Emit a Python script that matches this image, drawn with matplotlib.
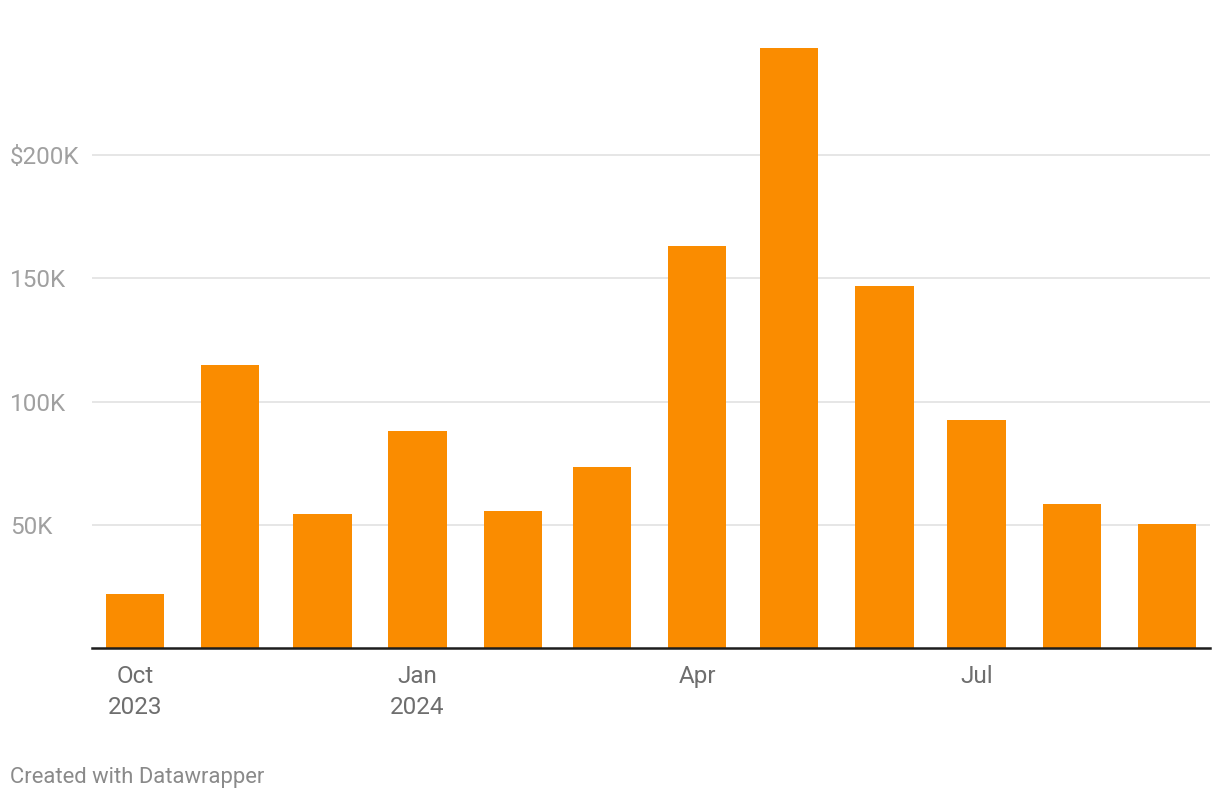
import datetime as dt

import matplotlib.dates as mdates
import matplotlib.pyplot as plt

plt.rcParams["font.family"] = ["Roboto", "DejaVu Sans"]

# Monthly values (USD), Oct 2023 - Sep 2024
months = [
    dt.date(2023, 10, 1), dt.date(2023, 11, 1), dt.date(2023, 12, 1),
    dt.date(2024, 1, 1), dt.date(2024, 2, 1), dt.date(2024, 3, 1),
    dt.date(2024, 4, 1), dt.date(2024, 5, 1), dt.date(2024, 6, 1),
    dt.date(2024, 7, 1), dt.date(2024, 8, 1), dt.date(2024, 9, 1),
]
values = [22000, 114800, 54400, 88000, 55600, 73400,
          163000, 243400, 146900, 92500, 58400, 50300]

ytick_vals = [50000, 100000, 150000, 200000]
ytick_labels = ["50K", "100K", "150K", "$200K"]
xtick_dates = [dt.date(2023, 10, 1), dt.date(2024, 1, 1),
               dt.date(2024, 4, 1), dt.date(2024, 7, 1)]
xtick_labels = ["Oct\n2023", "Jan\n2024", "Apr", "Jul"]

W, H = 1220, 800
fig = plt.figure(figsize=(W / 100, H / 100), dpi=100)
ax = fig.add_axes([92 / W, (H - 648) / H, (1210 - 92) / W, (648 - 32) / H])

ax.bar(months, values, width=19, color="#fa8c00", zorder=2)

ax.set_xlim(dt.date(2023, 9, 17), dt.date(2024, 9, 15))
ax.set_ylim(0, 250000)

ax.set_yticks(ytick_vals)
ax.set_yticklabels(ytick_labels)
ax.tick_params(axis="y", length=0, pad=59, labelsize=17.5, labelcolor="#a0a0a0")
for lab in ax.get_yticklabels():
    lab.set_horizontalalignment("left")
ax.grid(axis="y", color="#e6e6e6", linewidth=1.4, zorder=0)

ax.set_xticks(xtick_dates)
ax.set_xticklabels(xtick_labels, linespacing=1.4)
ax.tick_params(axis="x", length=0, pad=12.5, labelsize=17.5, labelcolor="#6e6e6e")

for side in ["top", "right", "left"]:
    ax.spines[side].set_visible(False)
ax.spines["bottom"].set_color("#1d1d1d")
ax.spines["bottom"].set_linewidth(1.8)
ax.spines["bottom"].set_zorder(3)

fig.text(10 / W, (H - 778) / H, "Created with Datawrapper", fontsize=15.8,
         color="#8a8a8a", ha="left", va="center")

fig.savefig("out.png", dpi=100)
